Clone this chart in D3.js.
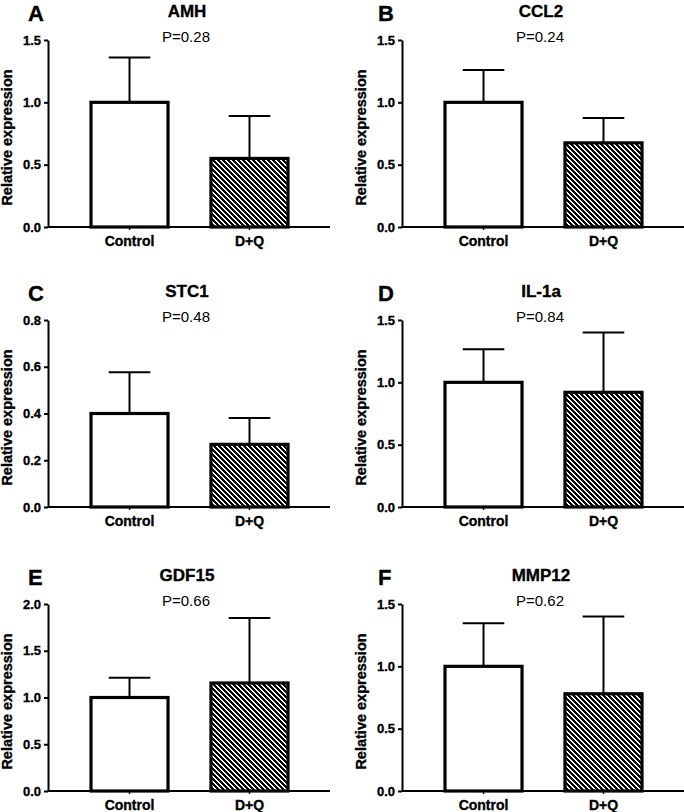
<!DOCTYPE html>
<html>
<head>
<meta charset="utf-8">
<script src="https://cdn.jsdelivr.net/npm/d3@7"></script>
<style>
html,body{margin:0;padding:0;background:#fff;}
svg{display:block;font-family:"Liberation Sans",Arial,Helvetica,sans-serif;}
</style>
</head>
<body>
<svg id="chart" width="684" height="812"></svg>
<script>
// ---- data ----
const genes = ["AMH", "CCL2", "STC1", "IL-1a", "GDF15", "MMP12"];
const panelLetters = ["A", "B", "C", "D", "E", "F"];
const pLabels = ["P=0.28", "P=0.24", "P=0.48", "P=0.84", "P=0.66", "P=0.62"];
const groups = ["Control", "D+Q"];
const controlMeans = [1.0, 1.0, 0.40, 1.0, 1.0, 1.0];
const controlUpper = [1.36, 1.26, 0.577, 1.265, 1.21, 1.345];
const dqMeans = [0.55, 0.675, 0.268, 0.92, 1.155, 0.78];
const dqUpper = [0.89, 0.875, 0.381, 1.40, 1.85, 1.40];
const yMaxes = [1.5, 1.5, 0.8, 1.5, 2.0, 1.5];
const yTickSets = [
  [0, 0.5, 1.0, 1.5],
  [0, 0.5, 1.0, 1.5],
  [0, 0.2, 0.4, 0.6, 0.8],
  [0, 0.5, 1.0, 1.5],
  [0, 0.5, 1.0, 1.5, 2.0],
  [0, 0.5, 1.0, 1.5]
];
const yAxisTitle = "Relative expression";

// ---- layout ----
const colX = [48, 402];
const rowTop = [40, 320, 604];
const plotH = 187;
const axisW = 282;

const svg = d3.select("#chart");

const defs = svg.append("defs");
const pat = defs.append("pattern")
  .attr("id", "hatch")
  .attr("patternUnits", "userSpaceOnUse")
  .attr("width", 5).attr("height", 5);
pat.append("rect").attr("width", 5).attr("height", 5).attr("fill", "#fff");
pat.append("path")
  .attr("d", "M-1,-1 L6,6 M-1,4 L1,6 M4,-1 L6,1")
  .attr("stroke", "#000").attr("stroke-width", 1.7)
  .attr("shape-rendering", "crispEdges");

const boldStroke = sel => sel.attr("stroke", "#000").attr("stroke-width", 0.35);

genes.forEach((gene, i) => {
  const col = i % 2, row = Math.floor(i / 2);
  const x0 = colX[col], top = rowTop[row];
  const g = svg.append("g").attr("transform", `translate(${x0},${top})`);

  const y = d3.scaleLinear().domain([0, yMaxes[i]]).range([plotH, 0]);
  const x = d3.scaleBand().domain(groups).range([43, 240]).paddingInner(0.358).paddingOuter(0);

  const bars = [
    {group: groups[0], mean: controlMeans[i], upper: controlUpper[i], fill: "#fff"},
    {group: groups[1], mean: dqMeans[i], upper: dqUpper[i], fill: "url(#hatch)"}
  ];

  // error bars (behind bars)
  const capHalf = x.bandwidth() * 0.27;
  bars.forEach(b => {
    const cx = x(b.group) + x.bandwidth() / 2;
    g.append("line")
      .attr("x1", cx).attr("x2", cx)
      .attr("y1", y(b.mean)).attr("y2", y(b.upper))
      .attr("stroke", "#000").attr("stroke-width", 2);
    g.append("line")
      .attr("x1", cx - capHalf).attr("x2", cx + capHalf)
      .attr("y1", y(b.upper)).attr("y2", y(b.upper))
      .attr("stroke", "#000").attr("stroke-width", 2);
  });

  // bars
  g.selectAll("rect.bar").data(bars).enter().append("rect")
    .attr("class", "bar")
    .attr("x", d => x(d.group))
    .attr("y", d => y(d.mean))
    .attr("width", x.bandwidth())
    .attr("height", d => y(0) - y(d.mean))
    .attr("fill", d => d.fill)
    .attr("stroke", "#000").attr("stroke-width", 3.2);

  // y axis
  const yAxis = d3.axisLeft(y).tickValues(yTickSets[i]).tickFormat(d3.format(".1f")).tickSizeInner(4).tickSizeOuter(0).tickPadding(3);
  const ya = g.append("g").call(yAxis);
  ya.select(".domain").attr("stroke-width", 2);
  ya.selectAll(".tick line").attr("stroke-width", 2);
  ya.selectAll(".tick text")
    .attr("font-size", 13).attr("font-weight", "bold").attr("fill", "#000")
    .attr("font-family", "'Liberation Sans',Arial,sans-serif")
    .call(boldStroke);

  // x axis
  const xa = g.append("g").attr("transform", `translate(0,${plotH})`);
  xa.append("line").attr("x1", 0).attr("x2", axisW).attr("y1", 0).attr("y2", 0)
    .attr("stroke", "#000").attr("stroke-width", 2);
  const xAxis = d3.axisBottom(x).tickSizeInner(3).tickSizeOuter(0).tickPadding(6);
  const xg = xa.append("g").call(xAxis);
  xg.select(".domain").remove();
  xg.selectAll(".tick line").attr("stroke-width", 1.5);
  xg.selectAll(".tick text")
    .attr("font-size", 14).attr("font-weight", "bold").attr("fill", "#000")
    .attr("font-family", "'Liberation Sans',Arial,sans-serif")
    .call(boldStroke);

  // y axis title
  g.append("text")
    .attr("transform", `translate(-36,${plotH / 2 + 4}) rotate(-90)`)
    .attr("text-anchor", "middle")
    .attr("font-size", 14.5).attr("font-weight", "bold")
    .call(boldStroke)
    .text(yAxisTitle);

  // gene title
  g.append("text")
    .attr("x", 139).attr("y", -23)
    .attr("text-anchor", "middle")
    .attr("font-size", 17).attr("font-weight", "bold")
    .call(boldStroke)
    .text(gene);

  // p value
  g.append("text")
    .attr("x", 138).attr("y", 2)
    .attr("text-anchor", "middle")
    .attr("font-size", 15)
    .text(pLabels[i]);

  // panel letter
  g.append("text")
    .attr("x", col === 0 ? -20 : -24).attr("y", -19)
    .attr("font-size", 22).attr("font-weight", "bold")
    .call(boldStroke)
    .text(panelLetters[i]);
});
</script>
</body>
</html>
